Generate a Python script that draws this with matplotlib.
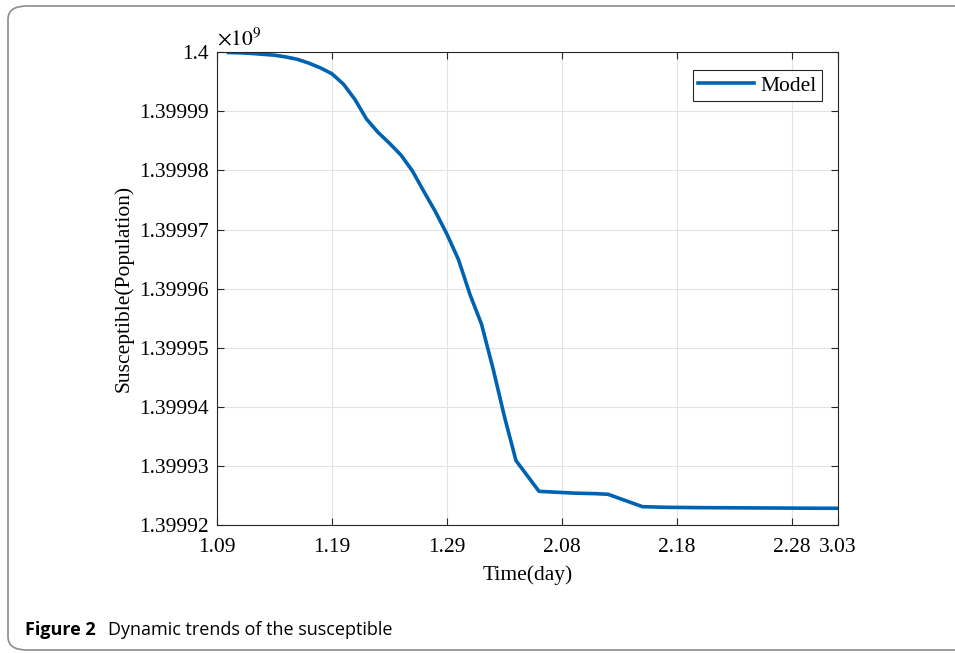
import numpy as np
import matplotlib.pyplot as plt
from matplotlib.patches import FancyBboxPatch
from matplotlib.ticker import FuncFormatter

# days since Jan 9 and how far the susceptible count has fallen below 1.4e9
days = np.arange(1, 55)
drop = [50, 100, 200, 350, 500, 800, 1200, 1850, 2650, 3650,
        5400, 8000, 11300, 13550, 15400, 17400, 20100, 23600, 27000, 30800,
        35100, 41000, 46000, 53500, 61700, 69100, 71700, 74300, 74400, 74500,
        74600, 74650, 74700, 74800, 75500, 76200, 76900, 76950, 77000, 77020,
        77040, 77060, 77070, 77080, 77090, 77100, 77110, 77120, 77130, 77140,
        77150, 77160, 77160, 77170]
susceptible = 1.4e9 - np.array(drop)

xtick_pos = [0, 10, 20, 30, 40, 50, 54]
xtick_labels = ['1.09', '1.19', '1.29', '2.08', '2.18', '2.28', '3.03']
ytick_vals = np.arange(1.39992e9, 1.4e9 + 1, 1e4)

plt.rcParams['font.family'] = 'Liberation Serif'
plt.rcParams['mathtext.fontset'] = 'stix'

fig = plt.figure(figsize=(9.55, 6.53), dpi=100)
ax = fig.add_axes([0.2272, 0.196, 0.6503, 0.724])

ax.plot(days, susceptible, color='#0063b1', lw=2.6, label='Model')

ax.set_xlim(0, 54)
ax.set_ylim(1.39992e9, 1.4e9)
ax.set_xticks(xtick_pos)
ax.set_xticklabels(xtick_labels)
ax.set_yticks(ytick_vals)
ax.yaxis.set_major_formatter(FuncFormatter(lambda v, p: '%g' % round(v / 1e9, 5)))
ax.tick_params(direction='in', top=True, right=True, labelsize=15.5,
               length=5, width=0.8, color='#262626')
ax.tick_params(axis='x', pad=9)
ax.tick_params(axis='y', pad=6)
ax.grid(True, color='#e3e3e3', lw=0.8)
for s in ax.spines.values():
    s.set_color('#262626')
    s.set_linewidth(0.8)

ax.set_xlabel('Time(day)', fontsize=15.5, labelpad=6)
ax.set_ylabel('Susceptible(Population)', fontsize=15.5, labelpad=4)
ax.text(0.0, 1.005, r'$\times10^9$', transform=ax.transAxes, fontsize=15.5,
        ha='left', va='bottom')

leg = ax.legend(loc='upper right', fontsize=15.5, fancybox=False, framealpha=1,
                edgecolor='#262626', handlelength=2.6, handletextpad=0.3,
                borderpad=0.25, borderaxespad=0, bbox_to_anchor=(0.975, 0.962))
leg.get_frame().set_linewidth(0.8)

# rounded frame around the figure and its caption
frame = FancyBboxPatch((8 / 955, 3 / 653), 1.2, 1 - 9 / 653,
                       boxstyle='round,pad=0,rounding_size=0.02',
                       transform=fig.transFigure, fill=False,
                       edgecolor='#8c8c8c', lw=1.2, clip_on=False)
fig.patches.append(frame)
fig.text(25 / 955, 1 - 630 / 653, 'Figure 2', fontsize=13, fontweight='bold',
         family='Open Sans', va='center', ha='left')
fig.text(108 / 955, 1 - 630 / 653, 'Dynamic trends of the susceptible', fontsize=13,
         family='Open Sans', va='center', ha='left')

fig.savefig('out.png', dpi=100)
